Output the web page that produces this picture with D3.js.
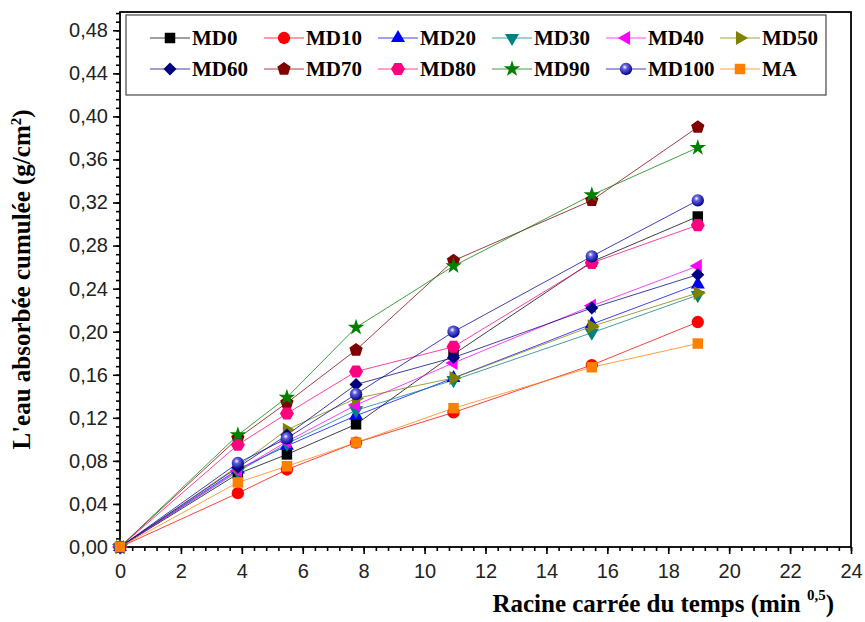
<!DOCTYPE html>
<html>
<head>
<meta charset="utf-8">
<script src="https://cdn.jsdelivr.net/npm/d3@7"></script>
<style>
  body { margin: 0; background: #fff; }
  svg { display: block; }
</style>
</head>
<body>
<div id="chart"></div>
<script>
// racine carrée du temps (min^0,5)
var times = [0, 3.87, 5.48, 7.75, 10.95, 15.49, 18.97];

var seriesNames = ["MD0", "MD10", "MD20", "MD30", "MD40", "MD50", "MD60", "MD70", "MD80", "MD90", "MD100", "MA"];

var MD0   = [0, 0.068, 0.086, 0.114, 0.179, 0.265, 0.307];
var MD10  = [0, 0.050, 0.072, 0.097, 0.125, 0.169, 0.209];
var MD20  = [0, 0.072, 0.094, 0.122, 0.157, 0.207, 0.244];
var MD30  = [0, 0.070, 0.096, 0.127, 0.155, 0.199, 0.234];
var MD40  = [0, 0.071, 0.098, 0.132, 0.171, 0.224, 0.261];
var MD50  = [0, 0.075, 0.109, 0.138, 0.157, 0.205, 0.236];
var MD60  = [0, 0.074, 0.104, 0.151, 0.176, 0.222, 0.253];
var MD70  = [0, 0.101, 0.134, 0.183, 0.266, 0.322, 0.390];
var MD80  = [0, 0.095, 0.124, 0.163, 0.186, 0.264, 0.299];
var MD90  = [0, 0.104, 0.139, 0.204, 0.261, 0.327, 0.371];
var MD100 = [0, 0.078, 0.101, 0.142, 0.200, 0.270, 0.322];
var MA    = [0, 0.060, 0.075, 0.097, 0.129, 0.167, 0.189];

var seriesValues = [MD0, MD10, MD20, MD30, MD40, MD50, MD60, MD70, MD80, MD90, MD100, MA];

var xTicks = [0, 2, 4, 6, 8, 10, 12, 14, 16, 18, 20, 22, 24];
var yTicks = [0, 0.04, 0.08, 0.12, 0.16, 0.20, 0.24, 0.28, 0.32, 0.36, 0.40, 0.44, 0.48];

var colors  = ["#000000", "#ff0000", "#0000ff", "#008080", "#ff00ff", "#808000",
               "#000080", "#800000", "#ff0080", "#008000", "#0000a0", "#ff8000"];
var shapes  = ["square", "circle", "up", "down", "left", "right",
               "diamond", "pentagon", "hexagon", "star", "sphere", "square"];

var W = 865, H = 622;
var plotL = 120, plotR = 851, plotT = 12, plotB = 547;

var svg = d3.select("#chart").append("svg")
    .attr("width", W).attr("height", H);

var x = d3.scaleLinear().domain([0, 24]).range([plotL, plotR]);
var y = d3.scaleLinear().domain([0, 0.497]).range([plotB, plotT]);

var defs = svg.append("defs");
var grad = defs.append("radialGradient").attr("id", "sphere")
    .attr("cx", "40%").attr("cy", "35%").attr("r", "65%");
grad.append("stop").attr("offset", "0%").attr("stop-color", "#ffffff");
grad.append("stop").attr("offset", "30%").attr("stop-color", "#6060e0");
grad.append("stop").attr("offset", "100%").attr("stop-color", "#00008a");

// polygon helper for pentagon / hexagon
function polygon(n, r, rot) {
  var pts = d3.range(n).map(function(i) {
    var a = rot + i * 2 * Math.PI / n;
    return [r * Math.cos(a), r * Math.sin(a)];
  });
  return "M" + pts.join("L") + "Z";
}

function symbolPath(shape) {
  switch (shape) {
    case "square":   return d3.symbol(d3.symbolSquare, 110)();
    case "circle":   return d3.symbol(d3.symbolCircle, 120)();
    case "sphere":   return d3.symbol(d3.symbolCircle, 120)();
    case "up":
    case "down":
    case "left":
    case "right":    return d3.symbol(d3.symbolTriangle, 85)();
    case "diamond":  return d3.symbol(d3.symbolSquare, 85)();
    case "pentagon": return polygon(5, 7, -Math.PI / 2);
    case "hexagon":  return polygon(6, 7, 0);
    case "star":     return d3.symbol(d3.symbolStar, 85)();
  }
}

function symbolRot(shape) {
  return {down: 180, left: -90, right: 90, diamond: 45}[shape] || 0;
}

function drawSymbol(g, shape, color, cx, cy) {
  g.append("path")
    .attr("d", symbolPath(shape))
    .attr("transform", "translate(" + cx + "," + cy + ") rotate(" + symbolRot(shape) + ")")
    .attr("fill", shape === "sphere" ? "url(#sphere)" : color);
}

// axes
svg.append("g")
    .attr("transform", "translate(" + plotL + ",0)")
    .call(d3.axisLeft(y).tickValues(yTicks).tickSize(7).tickPadding(5)
      .tickFormat(function(d) { return d3.format(".2f")(d).replace(".", ","); }));
svg.append("g")
    .attr("transform", "translate(" + plotL + ",0)")
    .call(d3.axisLeft(y).tickValues(d3.range(0, 0.497, 0.008)).tickSize(4).tickFormat(""));

svg.append("g")
    .attr("transform", "translate(0," + plotB + ")")
    .call(d3.axisBottom(x).tickValues(xTicks).tickSize(7).tickPadding(10));
svg.append("g")
    .attr("transform", "translate(0," + plotB + ")")
    .call(d3.axisBottom(x).tickValues(d3.range(0, 24.01, 0.4)).tickSize(4).tickFormat(""));

svg.selectAll(".domain").remove();
svg.selectAll(".tick line").attr("stroke", "#000").attr("stroke-width", 1.6);
svg.selectAll(".tick text")
    .attr("font-family", "Liberation Sans Narrow, Arial Narrow, Liberation Sans, sans-serif")
    .attr("font-size", 20).attr("fill", "#222");

// frame
svg.append("rect")
    .attr("x", plotL).attr("y", plotT)
    .attr("width", plotR - plotL).attr("height", plotB - plotT)
    .attr("fill", "none").attr("stroke", "#000").attr("stroke-width", 1.8);

// series
var line = d3.line().x(function(d) { return x(d[0]); }).y(function(d) { return y(d[1]); });

seriesNames.forEach(function(name, i) {
  var pts = times.map(function(t, j) { return [t, seriesValues[i][j]]; });
  svg.append("path")
    .attr("d", line(pts))
    .attr("fill", "none")
    .attr("stroke", colors[i])
    .attr("stroke-opacity", 0.75)
    .attr("stroke-width", 1);
});

seriesNames.forEach(function(name, i) {
  var g = svg.append("g");
  times.forEach(function(t, j) {
    drawSymbol(g, shapes[i], colors[i], x(t), y(seriesValues[i][j]));
  });
});

// legend
var legend = svg.append("g");
legend.append("rect")
    .attr("x", 126).attr("y", 15).attr("width", 700).attr("height", 80)
    .attr("fill", "#fff").attr("stroke", "#555").attr("stroke-width", 1.3);

var colX = [150, 264, 378, 492, 606, 720];
seriesNames.forEach(function(name, i) {
  var cx = colX[i % 6], cy = i < 6 ? 38 : 69;
  var lg = legend.append("g");
  lg.append("line")
    .attr("x1", cx).attr("x2", cx + 40).attr("y1", cy).attr("y2", cy)
    .attr("stroke", colors[i]).attr("stroke-opacity", 0.75).attr("stroke-width", 1);
  drawSymbol(lg, shapes[i], colors[i], cx + 20, cy);
  lg.append("text")
    .attr("x", cx + 42).attr("y", cy)
    .attr("dy", "0.35em")
    .attr("font-family", "Liberation Serif, Times New Roman, serif")
    .attr("font-weight", "bold").attr("font-size", 21)
    .text(name);
});

// axis titles
svg.append("text")
    .attr("transform", "translate(30," + ((plotT + plotB) / 2) + ") rotate(-90)")
    .attr("text-anchor", "middle")
    .attr("font-family", "Liberation Serif, Times New Roman, serif")
    .attr("font-weight", "bold").attr("font-size", 25)
    .html("L'eau absorbée cumulée (g/cm<tspan dy='-9' font-size='15'>2</tspan><tspan dy='9'>)</tspan>");

svg.append("text")
    .attr("x", 834).attr("y", 612)
    .attr("text-anchor", "end")
    .attr("font-family", "Liberation Serif, Times New Roman, serif")
    .attr("font-weight", "bold").attr("font-size", 25)
    .html("Racine carrée du temps (min <tspan dy='-12' font-size='15'>0,5</tspan><tspan dy='12'>)</tspan>");
</script>
</body>
</html>
